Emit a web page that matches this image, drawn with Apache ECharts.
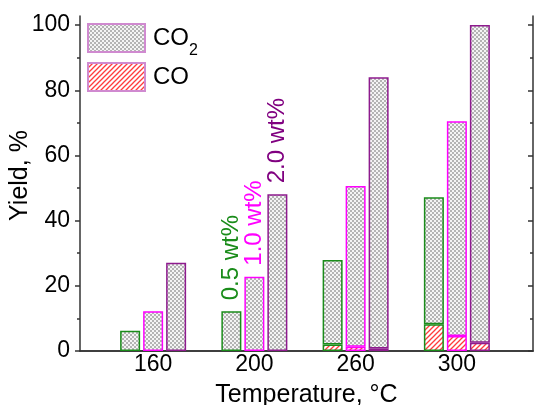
<!DOCTYPE html>
<html><head><meta charset="utf-8">
<script src="https://cdn.jsdelivr.net/npm/echarts@6/dist/echarts.min.js"></script>
<style>html,body{margin:0;padding:0;background:#fff}#c{width:534px;height:405px}</style>
</head><body><div id="c"></div>
<script>
const categories = ['160', '200', '260', '300'];
const loadings = ['0.5 wt%', '1.0 wt%', '2.0 wt%'];
const co_05  = [0, 0, 2.0, 8.2];
const co2_05 = [6.2, 12.2, 25.9, 39.0];
const co_10  = [0, 0, 1.3, 4.6];
const co2_10 = [12.2, 22.8, 49.3, 65.9];
const co_20  = [0, 0, 0.8, 2.5];
const co2_20 = [27.1, 48.1, 83.2, 97.5];
const yTicks = [0, 20, 40, 60, 80, 100];
const yMinor = [10, 30, 50, 70, 90];

const FONT = 'Liberation Sans';
const colors = ['#1a8c1a', '#ff00ff', '#8e1b8e'];
const labelColors = ['#1a8c1a', '#ff00ff', '#800080'];

function makeChecker() {
  const c = document.createElement('canvas'); c.width = c.height = 4;
  const g = c.getContext('2d');
  g.fillStyle = '#f4f4f4'; g.fillRect(0, 0, 4, 4);
  g.fillStyle = '#b4b4b4'; g.fillRect(0, 0, 2, 2); g.fillRect(2, 2, 2, 2);
  return c;
}
function makeHatch() {
  const s = 5;
  const c = document.createElement('canvas'); c.width = c.height = s;
  const g = c.getContext('2d');
  g.fillStyle = '#ffffff'; g.fillRect(0, 0, s, s);
  g.strokeStyle = '#ff3b3b'; g.lineWidth = 1.3;
  g.beginPath();
  g.moveTo(-1, s + 1); g.lineTo(s + 1, -1);
  g.moveTo(-1, 1); g.lineTo(1, -1);
  g.moveTo(s - 1, s + 1); g.lineTo(s + 1, s - 1);
  g.stroke();
  return c;
}
const checker = { image: makeChecker(), repeat: 'repeat' };
const hatch = { image: makeHatch(), repeat: 'repeat' };

const groups = [[co_05, co2_05], [co_10, co2_10], [co_20, co2_20]];
const YMAX = 102.8;

const series = [
  { name: 'CO2', type: 'bar', xAxisIndex: 0, yAxisIndex: 0, data: [],
    itemStyle: { color: checker, borderColor: '#d08ad0', borderWidth: 1 } },
  { name: 'CO', type: 'bar', xAxisIndex: 0, yAxisIndex: 0, data: [],
    itemStyle: { color: hatch, borderColor: '#d08ad0', borderWidth: 1 } }
];
groups.forEach((g, k) => {
  series.push({
    name: 'CO-' + loadings[k], type: 'bar', stack: 's' + k, xAxisIndex: 2, yAxisIndex: 4,
    barWidth: 20, barGap: '15%',
    data: g[0].map(v => v === 0 ? null : v),
    itemStyle: { color: hatch, borderColor: colors[k], borderWidth: 1.5 }
  });
  series.push({
    name: 'CO2-' + loadings[k], type: 'bar', stack: 's' + k, xAxisIndex: 2, yAxisIndex: 4,
    barWidth: 20, barGap: '15%',
    data: g[1].map((v, i) => i === 1 ? {
      value: v,
      label: { show: true, position: 'top', rotate: 90, align: 'left', verticalAlign: 'middle',
        distance: 11, formatter: loadings[k], color: labelColors[k], fontSize: 24, fontFamily: FONT }
    } : v),
    itemStyle: { color: checker, borderColor: colors[k], borderWidth: 1.5 }
  });
});

const axisLineStyle = { color: '#333', width: 1.5 };
const chart = echarts.init(document.getElementById('c'), null, { renderer: 'canvas' });
chart.setOption({
  animation: false,
  backgroundColor: '#fff',
  grid: [
    { left: 80, right: 1, top: 16, bottom: 54, outerBoundsMode: 'none', containLabel: false },
    { left: 102.5, right: 26.5, top: 16, bottom: 54, outerBoundsMode: 'none', containLabel: false }
  ],
  legend: {
    orient: 'vertical', left: 87, top: 23, padding: 0, itemWidth: 57, itemHeight: 28, itemGap: 3,
    icon: 'rect', selectedMode: false,
    data: ['CO2', 'CO'],
    formatter: n => n === 'CO2' ? '{n|CO}{s|2}' : '{n|CO}',
    textStyle: { fontSize: 24, color: '#000', fontFamily: FONT, padding: [0, 0, 0, 3],
      rich: {
        n: { fontSize: 24, fontFamily: FONT, color: '#000', verticalAlign: 'middle' },
        s: { fontSize: 16, fontFamily: FONT, color: '#000', verticalAlign: 'middle', padding: [26, 0, 0, 0] }
      } }
  },
  xAxis: [
    { gridIndex: 0, type: 'value', min: 0, max: 1, position: 'bottom',
      axisLine: { show: true, lineStyle: axisLineStyle }, axisTick: { show: false },
      axisLabel: { show: false }, splitLine: { show: false },
      name: 'Temperature, °C', nameLocation: 'middle', nameGap: 32, nameMoveOverlap: false,
      nameTextStyle: { fontSize: 25, color: '#000', fontFamily: FONT } },
    { gridIndex: 0, type: 'value', min: 0, max: 1, position: 'top',
      axisLine: { show: true, lineStyle: axisLineStyle }, axisTick: { show: false },
      axisLabel: { show: false }, splitLine: { show: false } },
    { gridIndex: 1, type: 'category', data: categories, position: 'bottom',
      axisLine: { show: false }, axisTick: { show: false }, splitLine: { show: false },
      axisLabel: { fontSize: 23, color: '#000', fontFamily: FONT, margin: 2 } }
  ],
  yAxis: [
    { gridIndex: 0, type: 'value', min: 0, max: YMAX, position: 'left',
      axisLine: { show: true, lineStyle: axisLineStyle },
      axisTick: { show: true, length: 5, customValues: yTicks, lineStyle: axisLineStyle },
      axisLabel: { customValues: yTicks, fontSize: 23, color: '#000', fontFamily: FONT, margin: 10 },
      splitLine: { show: false },
      name: 'Yield, %', nameLocation: 'middle', nameGap: 47, nameMoveOverlap: false,
      nameTextStyle: { fontSize: 25, color: '#000', fontFamily: FONT, padding: [0, 0, 0, 16] } },
    { gridIndex: 0, type: 'value', min: 0, max: YMAX, position: 'left',
      axisLine: { show: false },
      axisTick: { show: true, length: 3, customValues: yMinor, lineStyle: axisLineStyle },
      axisLabel: { show: false }, splitLine: { show: false } },
    { gridIndex: 0, type: 'value', min: 0, max: YMAX, position: 'right',
      axisLine: { show: true, lineStyle: axisLineStyle },
      axisTick: { show: true, inside: true, length: 5, customValues: yTicks, lineStyle: axisLineStyle },
      axisLabel: { show: false }, splitLine: { show: false } },
    { gridIndex: 0, type: 'value', min: 0, max: YMAX, position: 'right',
      axisLine: { show: false },
      axisTick: { show: true, inside: true, length: 3, customValues: yMinor, lineStyle: axisLineStyle },
      axisLabel: { show: false }, splitLine: { show: false } },
    { gridIndex: 1, type: 'value', min: 0, max: YMAX, show: false }
  ],
  series: series
});
</script>
</body></html>
